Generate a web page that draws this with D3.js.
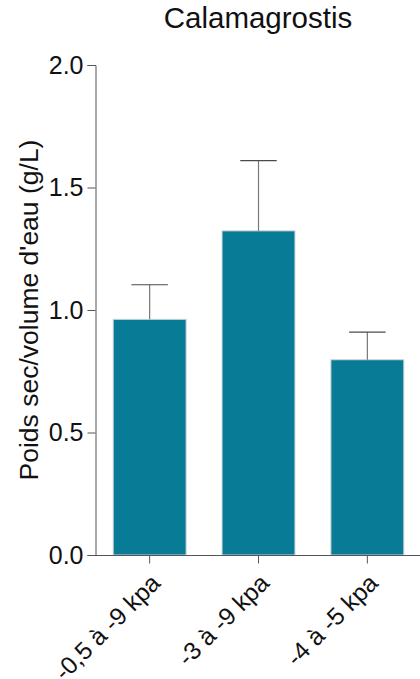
<!DOCTYPE html>
<html>
<head>
<meta charset="utf-8">
<script src="https://cdn.jsdelivr.net/npm/d3@7"></script>
<style>
  html, body { margin: 0; padding: 0; background: #fff; }
  svg { display: block; font-family: "Liberation Sans", Arial, sans-serif; }
</style>
</head>
<body>
<svg id="chart" width="420" height="679"></svg>
<script>
const categories = ["-0,5 à -9 kpa", "-3 à -9 kpa", "-4 à -5 kpa"];
const means = [0.962, 1.323, 0.797];
const errors = [0.141, 0.287, 0.113];
const yTicks = [0, 0.5, 1.0, 1.5, 2.0];
const title = "Calamagrostis";
const yLabel = "Poids sec/volume d'eau (g/L)";

const svg = d3.select("#chart");
const axisColor = "#555";
const barColor = "#087c96";

const x = d3.scaleBand().domain(categories).range([95, 422]).paddingInner(0.33).paddingOuter(0.167);
const y = d3.scaleLinear().domain([0, 2]).range([555, 65]);

// Bars
svg.append("g").selectAll("rect").data(categories).join("rect")
  .attr("x", d => x(d))
  .attr("y", (d, i) => y(means[i]))
  .attr("width", x.bandwidth())
  .attr("height", (d, i) => y(0) - y(means[i]))
  .attr("fill", barColor)
  .attr("stroke", "#d0d4d8")
  .attr("stroke-width", 1);

// Error bars (upper only)
const eg = svg.append("g").attr("stroke", "#4a4a4a").attr("stroke-width", 1.2).attr("fill", "none");
categories.forEach((c, i) => {
  const cx = x(c) + x.bandwidth() / 2;
  const top = y(means[i] + errors[i]);
  eg.append("line").attr("x1", cx).attr("x2", cx).attr("y1", y(means[i])).attr("y2", top).attr("stroke", "#777");
  eg.append("line").attr("x1", cx - x.bandwidth() / 4).attr("x2", cx + x.bandwidth() / 4).attr("y1", top).attr("y2", top);
});

// Y axis
const yAxis = svg.append("g").attr("transform", "translate(95.5,0)")
  .call(d3.axisLeft(y).tickValues(yTicks).tickFormat(d3.format(".1f")).tickSizeOuter(0).tickSize(8).tickPadding(4));
yAxis.selectAll("path, line").attr("stroke", axisColor);
yAxis.selectAll("text").attr("font-size", 25).attr("fill", "#111").attr("font-family", "Liberation Sans, Arial, sans-serif");

// X axis
const xAxis = svg.append("g").attr("transform", "translate(0,555.5)")
  .call(d3.axisBottom(x).tickSizeOuter(0).tickSize(8).tickPadding(4));
xAxis.select(".domain").attr("d", `M95.5,0H420`);
xAxis.selectAll("path, line").attr("stroke", axisColor);
xAxis.selectAll("text")
  .attr("font-size", 24.5)
  .attr("fill", "#111")
  .attr("font-family", "Liberation Sans, Arial, sans-serif")
  .attr("text-anchor", "end")
  .attr("transform", "translate(6,23) rotate(-45)")
  .attr("dy", "0.35em")
  .attr("y", 0)
  .attr("x", 0);

// Title
svg.append("text").attr("x", 258).attr("y", 28).attr("text-anchor", "middle")
  .attr("font-size", 29.5).attr("fill", "#111").text(title);

// Y label
svg.append("text").attr("transform", "translate(38,310) rotate(-90)")
  .attr("text-anchor", "middle").attr("font-size", 26.5).attr("fill", "#111").text(yLabel);
</script>
</body>
</html>
